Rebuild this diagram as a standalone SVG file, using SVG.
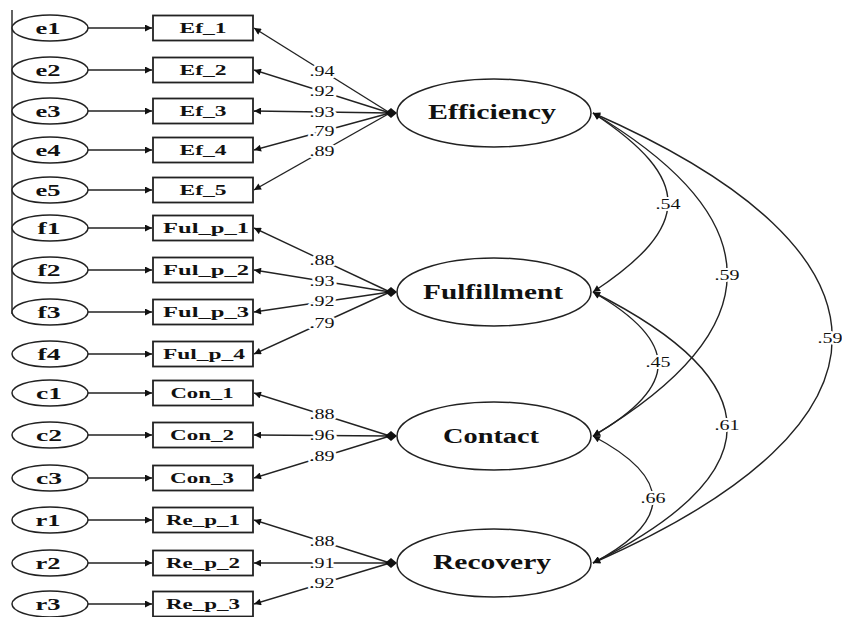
<svg xmlns="http://www.w3.org/2000/svg" width="842" height="617" viewBox="0 0 842 617">
<style>
.err{fill:#fff;stroke:#222;stroke-width:1.5}
.box{fill:#fff;stroke:#222;stroke-width:1.8}
.lat{fill:#fff;stroke:#222;stroke-width:1.5}
.t{font-family:"Liberation Serif","Times New Roman",serif;fill:#111;text-anchor:middle}
.et{font-size:17px;font-weight:bold}
.bt{font-size:15px;font-weight:bold}
.lt{font-size:20px;font-weight:bold}
.nt{font-size:14px;paint-order:stroke;stroke:#fff;stroke-width:4px;stroke-linejoin:round}
.ln{stroke:#222;stroke-width:1.4;fill:none}
.cv{stroke:#222;stroke-width:1.4;fill:none}
</style>
<defs>
<marker id="ah" viewBox="0 0 10 10" refX="10" refY="5" markerWidth="9" markerHeight="7" markerUnits="userSpaceOnUse" orient="auto-start-reverse"><path d="M0,0 L10,5 L0,10 z" fill="#111"/></marker>
</defs>
<rect width="842" height="617" fill="#fff"/>
<line x1="12" y1="10" x2="12" y2="314" stroke="#222" stroke-width="1.4"/>

<g id="connectors">
<line class="ln" x1="88" y1="28" x2="152" y2="28" marker-end="url(#ah)"/>
<line class="ln" x1="88" y1="70" x2="152" y2="70" marker-end="url(#ah)"/>
<line class="ln" x1="88" y1="111" x2="152" y2="111" marker-end="url(#ah)"/>
<line class="ln" x1="88" y1="150" x2="152" y2="150" marker-end="url(#ah)"/>
<line class="ln" x1="88" y1="190" x2="152" y2="190" marker-end="url(#ah)"/>
<line class="ln" x1="88" y1="228" x2="152" y2="228" marker-end="url(#ah)"/>
<line class="ln" x1="88" y1="270" x2="152" y2="270" marker-end="url(#ah)"/>
<line class="ln" x1="88" y1="312" x2="152" y2="312" marker-end="url(#ah)"/>
<line class="ln" x1="88" y1="354" x2="152" y2="354" marker-end="url(#ah)"/>
<line class="ln" x1="88" y1="393" x2="152" y2="393" marker-end="url(#ah)"/>
<line class="ln" x1="88" y1="435" x2="152" y2="435" marker-end="url(#ah)"/>
<line class="ln" x1="88" y1="478" x2="152" y2="478" marker-end="url(#ah)"/>
<line class="ln" x1="88" y1="520" x2="152" y2="520" marker-end="url(#ah)"/>
<line class="ln" x1="88" y1="563" x2="152" y2="563" marker-end="url(#ah)"/>
<line class="ln" x1="88" y1="604" x2="152" y2="604" marker-end="url(#ah)"/>
<line class="ln" x1="390" y1="113" x2="254" y2="28" marker-end="url(#ah)"/>
<line class="ln" x1="390" y1="113" x2="254" y2="70" marker-end="url(#ah)"/>
<line class="ln" x1="390" y1="113" x2="254" y2="111" marker-end="url(#ah)"/>
<line class="ln" x1="390" y1="113" x2="254" y2="150" marker-end="url(#ah)"/>
<line class="ln" x1="390" y1="113" x2="254" y2="190" marker-end="url(#ah)"/>
<line class="ln" x1="390" y1="292" x2="254" y2="228" marker-end="url(#ah)"/>
<line class="ln" x1="390" y1="292" x2="254" y2="270" marker-end="url(#ah)"/>
<line class="ln" x1="390" y1="292" x2="254" y2="312" marker-end="url(#ah)"/>
<line class="ln" x1="390" y1="292" x2="254" y2="354" marker-end="url(#ah)"/>
<line class="ln" x1="390" y1="436" x2="254" y2="393" marker-end="url(#ah)"/>
<line class="ln" x1="390" y1="436" x2="254" y2="435" marker-end="url(#ah)"/>
<line class="ln" x1="390" y1="436" x2="254" y2="478" marker-end="url(#ah)"/>
<line class="ln" x1="390" y1="563" x2="254" y2="520" marker-end="url(#ah)"/>
<line class="ln" x1="390" y1="563" x2="254" y2="563" marker-end="url(#ah)"/>
<line class="ln" x1="390" y1="563" x2="254" y2="604" marker-end="url(#ah)"/>
<path d="M385,113 L391,108 L397,113 L391,118 z" fill="#111"/>
<path d="M385,292 L391,287 L397,292 L391,297 z" fill="#111"/>
<path d="M385,436 L391,431 L397,436 L391,441 z" fill="#111"/>
<path d="M385,563 L391,558 L397,563 L391,568 z" fill="#111"/>
<text class="t nt" x="322" y="76" textLength="25" lengthAdjust="spacingAndGlyphs">.94</text>
<text class="t nt" x="322" y="96" textLength="25" lengthAdjust="spacingAndGlyphs">.92</text>
<text class="t nt" x="322" y="117" textLength="25" lengthAdjust="spacingAndGlyphs">.93</text>
<text class="t nt" x="322" y="136" textLength="25" lengthAdjust="spacingAndGlyphs">.79</text>
<text class="t nt" x="322" y="156" textLength="25" lengthAdjust="spacingAndGlyphs">.89</text>
<text class="t nt" x="322" y="265" textLength="25" lengthAdjust="spacingAndGlyphs">.88</text>
<text class="t nt" x="322" y="286" textLength="25" lengthAdjust="spacingAndGlyphs">.93</text>
<text class="t nt" x="322" y="306" textLength="25" lengthAdjust="spacingAndGlyphs">.92</text>
<text class="t nt" x="322" y="328" textLength="25" lengthAdjust="spacingAndGlyphs">.79</text>
<text class="t nt" x="322" y="419" textLength="25" lengthAdjust="spacingAndGlyphs">.88</text>
<text class="t nt" x="322" y="440" textLength="25" lengthAdjust="spacingAndGlyphs">.96</text>
<text class="t nt" x="322" y="461" textLength="25" lengthAdjust="spacingAndGlyphs">.89</text>
<text class="t nt" x="322" y="546" textLength="25" lengthAdjust="spacingAndGlyphs">.88</text>
<text class="t nt" x="322" y="568" textLength="25" lengthAdjust="spacingAndGlyphs">.91</text>
<text class="t nt" x="322" y="588" textLength="25" lengthAdjust="spacingAndGlyphs">.92</text>
<path class="cv" d="M593,113 C693,179 693,226 593,292" marker-start="url(#ah)" marker-end="url(#ah)"/>
<path class="cv" d="M593,113 C772,220 772,329 593,436" marker-start="url(#ah)" marker-end="url(#ah)"/>
<path class="cv" d="M593,113 C912,253 912,423 593,563" marker-start="url(#ah)" marker-end="url(#ah)"/>
<path class="cv" d="M593,292 C680,342 680,386 593,436" marker-start="url(#ah)" marker-end="url(#ah)"/>
<path class="cv" d="M593,292 C772,382 772,473 593,563" marker-start="url(#ah)" marker-end="url(#ah)"/>
<path class="cv" d="M593,436 C673,478 673,521 593,563" marker-start="url(#ah)" marker-end="url(#ah)"/>
<text class="t nt" x="668" y="209" textLength="25" lengthAdjust="spacingAndGlyphs">.54</text>
<text class="t nt" x="727" y="280" textLength="25" lengthAdjust="spacingAndGlyphs">.59</text>
<text class="t nt" x="830" y="343" textLength="25" lengthAdjust="spacingAndGlyphs">.59</text>
<text class="t nt" x="658" y="367" textLength="25" lengthAdjust="spacingAndGlyphs">.45</text>
<text class="t nt" x="727" y="430" textLength="25" lengthAdjust="spacingAndGlyphs">.61</text>
<text class="t nt" x="653" y="503" textLength="25" lengthAdjust="spacingAndGlyphs">.66</text>
</g>

<g id="e1"><ellipse class="err" cx="50" cy="28" rx="38" ry="13"/><text class="t et" x="48" y="34" textLength="25" lengthAdjust="spacingAndGlyphs">e1</text></g>
<g id="e2"><ellipse class="err" cx="50" cy="70" rx="38" ry="13"/><text class="t et" x="48" y="76" textLength="25" lengthAdjust="spacingAndGlyphs">e2</text></g>
<g id="e3"><ellipse class="err" cx="50" cy="111" rx="38" ry="13"/><text class="t et" x="48" y="117" textLength="25" lengthAdjust="spacingAndGlyphs">e3</text></g>
<g id="e4"><ellipse class="err" cx="50" cy="150" rx="38" ry="13"/><text class="t et" x="48" y="156" textLength="25" lengthAdjust="spacingAndGlyphs">e4</text></g>
<g id="e5"><ellipse class="err" cx="50" cy="190" rx="38" ry="13"/><text class="t et" x="48" y="196" textLength="25" lengthAdjust="spacingAndGlyphs">e5</text></g>
<g id="f1"><ellipse class="err" cx="50" cy="228" rx="38" ry="13"/><text class="t et" x="49" y="234" textLength="23" lengthAdjust="spacingAndGlyphs">f1</text></g>
<g id="f2"><ellipse class="err" cx="50" cy="270" rx="38" ry="13"/><text class="t et" x="49" y="276" textLength="23" lengthAdjust="spacingAndGlyphs">f2</text></g>
<g id="f3"><ellipse class="err" cx="50" cy="312" rx="38" ry="13"/><text class="t et" x="49" y="318" textLength="23" lengthAdjust="spacingAndGlyphs">f3</text></g>
<g id="f4"><ellipse class="err" cx="50" cy="354" rx="38" ry="13"/><text class="t et" x="49" y="360" textLength="23" lengthAdjust="spacingAndGlyphs">f4</text></g>
<g id="c1"><ellipse class="err" cx="50" cy="393" rx="38" ry="13"/><text class="t et" x="49" y="399" textLength="26" lengthAdjust="spacingAndGlyphs">c1</text></g>
<g id="c2"><ellipse class="err" cx="50" cy="435" rx="38" ry="13"/><text class="t et" x="49" y="441" textLength="26" lengthAdjust="spacingAndGlyphs">c2</text></g>
<g id="c3"><ellipse class="err" cx="50" cy="478" rx="38" ry="13"/><text class="t et" x="49" y="484" textLength="26" lengthAdjust="spacingAndGlyphs">c3</text></g>
<g id="r1"><ellipse class="err" cx="50" cy="520" rx="38" ry="13"/><text class="t et" x="48" y="526" textLength="25" lengthAdjust="spacingAndGlyphs">r1</text></g>
<g id="r2"><ellipse class="err" cx="50" cy="563" rx="38" ry="13"/><text class="t et" x="48" y="569" textLength="25" lengthAdjust="spacingAndGlyphs">r2</text></g>
<g id="r3"><ellipse class="err" cx="50" cy="604" rx="38" ry="13"/><text class="t et" x="48" y="610" textLength="25" lengthAdjust="spacingAndGlyphs">r3</text></g>

<g id="Ef_1"><rect class="box" x="153" y="15.5" width="100" height="25"/><text class="t bt" x="203" y="33" textLength="47" lengthAdjust="spacingAndGlyphs">Ef_1</text></g>
<g id="Ef_2"><rect class="box" x="153" y="57.5" width="100" height="25"/><text class="t bt" x="203" y="75" textLength="47" lengthAdjust="spacingAndGlyphs">Ef_2</text></g>
<g id="Ef_3"><rect class="box" x="153" y="98.5" width="100" height="25"/><text class="t bt" x="203" y="116" textLength="47" lengthAdjust="spacingAndGlyphs">Ef_3</text></g>
<g id="Ef_4"><rect class="box" x="153" y="137.5" width="100" height="25"/><text class="t bt" x="203" y="155" textLength="47" lengthAdjust="spacingAndGlyphs">Ef_4</text></g>
<g id="Ef_5"><rect class="box" x="153" y="177.5" width="100" height="25"/><text class="t bt" x="203" y="195" textLength="47" lengthAdjust="spacingAndGlyphs">Ef_5</text></g>
<g id="Ful_p_1"><rect class="box" x="153" y="215.5" width="100" height="25"/><text class="t bt" x="206" y="233" textLength="86" lengthAdjust="spacingAndGlyphs">Ful_p_1</text></g>
<g id="Ful_p_2"><rect class="box" x="153" y="257.5" width="100" height="25"/><text class="t bt" x="206" y="275" textLength="86" lengthAdjust="spacingAndGlyphs">Ful_p_2</text></g>
<g id="Ful_p_3"><rect class="box" x="153" y="299.5" width="100" height="25"/><text class="t bt" x="206" y="317" textLength="86" lengthAdjust="spacingAndGlyphs">Ful_p_3</text></g>
<g id="Ful_p_4"><rect class="box" x="153" y="341.5" width="100" height="25"/><text class="t bt" x="204" y="359" textLength="82" lengthAdjust="spacingAndGlyphs">Ful_p_4</text></g>
<g id="Con_1"><rect class="box" x="153" y="380.5" width="100" height="25"/><text class="t bt" x="202" y="398" textLength="63" lengthAdjust="spacingAndGlyphs">Con_1</text></g>
<g id="Con_2"><rect class="box" x="153" y="422.5" width="100" height="25"/><text class="t bt" x="202" y="440" textLength="64" lengthAdjust="spacingAndGlyphs">Con_2</text></g>
<g id="Con_3"><rect class="box" x="153" y="465.5" width="100" height="25"/><text class="t bt" x="202" y="483" textLength="64" lengthAdjust="spacingAndGlyphs">Con_3</text></g>
<g id="Re_p_1"><rect class="box" x="153" y="507.5" width="100" height="25"/><text class="t bt" x="203" y="525" textLength="74" lengthAdjust="spacingAndGlyphs">Re_p_1</text></g>
<g id="Re_p_2"><rect class="box" x="153" y="550.5" width="100" height="25"/><text class="t bt" x="203" y="568" textLength="74" lengthAdjust="spacingAndGlyphs">Re_p_2</text></g>
<g id="Re_p_3"><rect class="box" x="153" y="591.5" width="100" height="25"/><text class="t bt" x="203" y="609" textLength="74" lengthAdjust="spacingAndGlyphs">Re_p_3</text></g>

<g id="Efficiency"><ellipse class="lat" cx="494" cy="113" rx="97" ry="34"/><text class="t lt" x="492" y="119" textLength="128" lengthAdjust="spacingAndGlyphs">Efficiency</text></g>
<g id="Fulfillment"><ellipse class="lat" cx="494" cy="292" rx="97" ry="34"/><text class="t lt" x="493" y="299" textLength="140" lengthAdjust="spacingAndGlyphs">Fulfillment</text></g>
<g id="Contact"><ellipse class="lat" cx="494" cy="436" rx="97" ry="34"/><text class="t lt" x="491" y="443" textLength="96" lengthAdjust="spacingAndGlyphs">Contact</text></g>
<g id="Recovery"><ellipse class="lat" cx="494" cy="563" rx="97" ry="34"/><text class="t lt" x="492" y="569" textLength="118" lengthAdjust="spacingAndGlyphs">Recovery</text></g>
</svg>
